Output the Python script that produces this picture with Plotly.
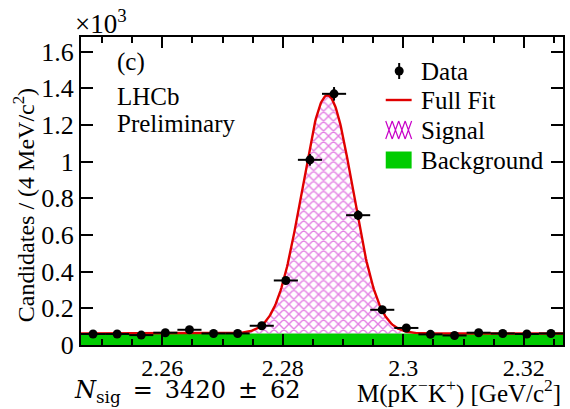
import numpy as np
import plotly.graph_objects as go

# Binned candidate counts (4 MeV bins) in M(pK-K+)
bin_centers = [2.2485, 2.2525, 2.2565, 2.2605, 2.2645, 2.2685, 2.2725, 2.2765,
               2.2805, 2.2845, 2.2885, 2.2925, 2.2965, 2.3005, 2.3045, 2.3085,
               2.3125, 2.3165, 2.3205, 2.3245]
counts = [60, 60, 54, 67, 83, 63, 63, 105, 352, 1010, 1370, 708, 192, 93,
          58, 52, 67, 63, 60, 63]

# Fit result: Gaussian signal on a flat background
N_SIG = 3420
N_SIG_ERR = 62
MASS = 2.2874
SIGMA = 0.0042
BKG_PER_BIN = 63
BIN_WIDTH = 0.004

x_range = [2.2465, 2.3265]
y_tickvals = [0, 0.2, 0.4, 0.6, 0.8, 1.0, 1.2, 1.4, 1.6]
y_ticktext = ["0", "0.2", "0.4", "0.6", "0.8", "1", "1.2", "1.4", "1.6"]
x_tickvals = [2.26, 2.28, 2.30, 2.32]
x_ticktext = ["2.26", "2.28", "2.3", "2.32"]
legend_labels = ["Data", "Full Fit", "Signal", "Background"]

FONT = "Liberation Serif"
MATH_FONT = "DejaVu Serif"
FS = 25
GREEN = "#00cc00"
MAGENTA = "#c800c8"
RED = "#e00000"

W, H = 570, 409
ML, MR, MT, MB = 81, 5, 37, 64
PW, PH = W - ML - MR, H - MT - MB


def px(p):
    return (p - ML) / PW


def py(p):
    return (H - MB - p) / PH


scale = 1000.0
y_data = np.array(counts) / scale
y_err = np.sqrt(np.array(counts)) / scale

xf = np.linspace(x_range[0], x_range[1], 600)
sig = N_SIG * BIN_WIDTH / (SIGMA * np.sqrt(2 * np.pi)) * np.exp(-0.5 * ((xf - MASS) / SIGMA) ** 2)
bkg = np.full_like(xf, BKG_PER_BIN)
full = (sig + bkg) / scale
bkg = bkg / scale

fig = go.Figure()

fig.add_trace(go.Scatter(
    x=xf, y=bkg, mode="lines", line=dict(width=0, color=GREEN),
    fill="tozeroy", fillcolor=GREEN, name="Background", hoverinfo="skip"))

fig.add_trace(go.Scatter(
    x=xf, y=full, mode="lines", line=dict(width=0, color=MAGENTA),
    fill="tonexty", fillcolor="rgba(0,0,0,0)",
    fillpattern=dict(shape="x", fgcolor=MAGENTA, bgcolor="rgba(255,255,255,0)",
                     size=7, solidity=0.36),
    name="Signal", hoverinfo="skip"))

fig.add_trace(go.Scatter(
    x=xf, y=full, mode="lines", line=dict(width=2.4, color=RED), name="Full Fit"))

fig.add_trace(go.Scatter(
    x=bin_centers, y=y_data, mode="markers",
    marker=dict(color="black", size=9),
    error_y=dict(type="data", array=y_err, color="black", thickness=2, width=0),
    error_x=dict(type="constant", value=BIN_WIDTH / 2, color="black", thickness=2, width=0),
    name="Data"))

axis_common = dict(
    showline=True, linecolor="black", linewidth=2, mirror="ticks",
    ticks="inside", tickcolor="black", tickwidth=2, showgrid=False, zeroline=False,
)

fig.update_xaxes(range=x_range, tickvals=x_tickvals, ticktext=x_ticktext, ticklen=11,
                 tickfont=dict(family=FONT, size=24, color="black"),
                 minor=dict(dtick=0.005, ticks="inside", ticklen=6, tickcolor="black",
                            tickwidth=1.5, tick0=2.26),
                 **axis_common)
fig.update_yaxes(range=[0, 1.68], tickvals=y_tickvals, ticktext=y_ticktext, ticklen=12,
                 tickfont=dict(family=FONT, size=26, color="black"),
                 **axis_common)

fig.update_layout(
    width=W, height=H,
    margin=dict(l=ML, r=MR, t=MT, b=MB),
    plot_bgcolor="white", paper_bgcolor="white",
    font=dict(family=FONT, size=FS, color="black"),
    showlegend=False,
)


def note(text, x, y, xanchor="left", yanchor="middle", size=FS, angle=0, family=FONT):
    fig.add_annotation(text=text, x=x, y=y, xref="paper", yref="paper",
                       xanchor=xanchor, yanchor=yanchor, showarrow=False,
                       textangle=angle, font=dict(family=family, size=size, color="black"))


# Legend box: symbols drawn as shapes, labels as annotations
row_y = [71, 100, 130, 160]
sym_x0, sym_x1 = 387, 413
text_x = 420
for label, yc in zip(legend_labels, row_y):
    note(label, px(text_x), py(yc))

# Data: dot with vertical error bar
fig.add_shape(type="line", xref="paper", yref="paper",
              x0=px(400.5), x1=px(400.5), y0=py(row_y[0] - 8), y1=py(row_y[0] + 8),
              line=dict(color="black", width=2))
fig.add_shape(type="circle", xref="paper", yref="paper",
              x0=px(396), x1=px(405), y0=py(row_y[0] - 4.5), y1=py(row_y[0] + 4.5),
              fillcolor="black", line=dict(color="black", width=0))
# Full fit: red line
fig.add_shape(type="line", xref="paper", yref="paper",
              x0=px(sym_x0), x1=px(sym_x1), y0=py(row_y[1]), y1=py(row_y[1]),
              line=dict(color=RED, width=2.4))
# Signal: cross-hatched box
hy0, hy1 = row_y[2] - 9, row_y[2] + 9
step = 6.5
path = []
xs = sym_x0
while xs < sym_x1:
    xe = min(xs + step, sym_x1)
    path.append(f"M{px(xs)},{py(hy0)} L{px(xe)},{py(hy1)}")
    path.append(f"M{px(xs)},{py(hy1)} L{px(xe)},{py(hy0)}")
    xs += step
fig.add_shape(type="path", xref="paper", yref="paper", path=" ".join(path),
              line=dict(color=MAGENTA, width=1.2))
# Background: green box
fig.add_shape(type="rect", xref="paper", yref="paper",
              x0=px(sym_x0), x1=px(sym_x1), y0=py(row_y[3] - 8.5), y1=py(row_y[3] + 8.5),
              fillcolor=GREEN, line=dict(width=0))

note("(c)", px(115), py(62))
note("LHCb", px(115), py(97))
note("Preliminary", px(115), py(123))
note("\u00d710<sup>3</sup>", px(73), py(22), size=27)
note("Candidates / (4 MeV/c<sup>2</sup>)", px(24), py(205), xanchor="center", angle=-90, size=24)
note("M(pK<sup>\u2212</sup>K<sup>+</sup>) [GeV/c<sup>2</sup>]", 1.0, py(391), xanchor="right")
note(f"<i>N</i><sub>sig</sub>\u2002=\u2002{N_SIG}\u2002\u00b1\u2002{N_SIG_ERR}",
     px(72), py(391), size=24, family=MATH_FONT)

fig.write_html("out.html")
